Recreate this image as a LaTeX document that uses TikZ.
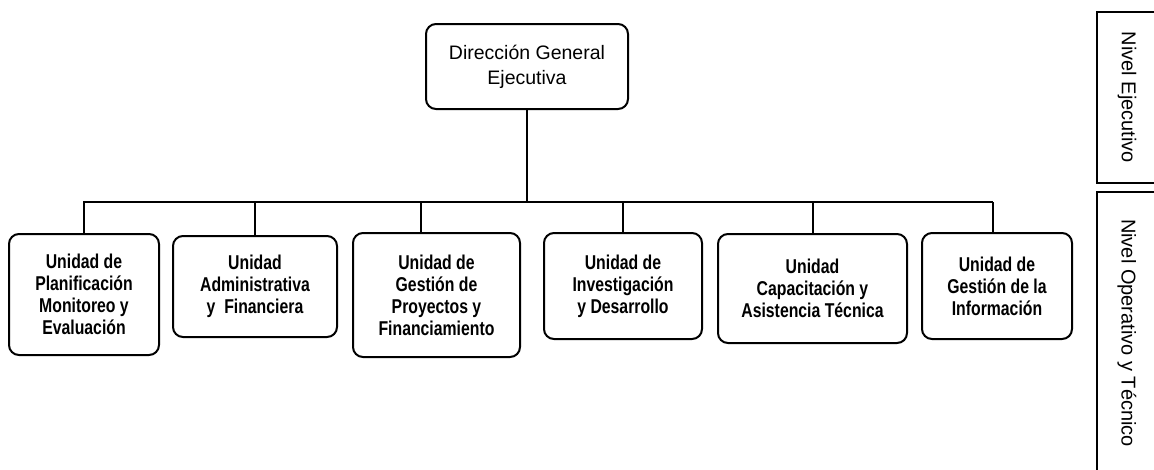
\documentclass[tikz,border=0pt]{standalone}
\usepackage{fontspec}
\setmainfont{Liberation Sans}
\newfontfamily\unitfont[FakeStretch=0.79]{Liberation Sans}
\begin{document}
\begin{tikzpicture}[x=1pt,y=-1pt,line width=2pt,color=black,
	direccion/.style={draw,rounded corners=10pt,align=center,inner sep=0pt,
		font=\fontsize{19.5}{25}\selectfont},
	unidad/.style={draw,rounded corners=10pt,align=center,inner sep=0pt,
		font=\unitfont\bfseries\fontsize{20}{22}\selectfont},
	nivel/.style={draw,line width=1.5pt,rotate=-90,inner sep=0pt,
		font=\fontsize{20}{24}\selectfont}]
		\useasboundingbox (0,0) rectangle (1154,469);
		\node[direccion,minimum width=202pt,minimum height=85pt] (dir) at (527,66.5) {Direcci\'on General\\Ejecutiva};
		\node[unidad,minimum width=150pt,minimum height=121pt] (u1) at (84,294.5) {Unidad de\\Planificaci\'on\\Monitoreo y\\Evaluaci\'on};
		\node[unidad,minimum width=164pt,minimum height=101pt] (u2) at (255,286.5) {Unidad\\Administrativa\\y\ \ Financiera};
		\node[unidad,minimum width=167pt,minimum height=124pt] (u3) at (436.5,295) {Unidad de\\Gesti\'on de\\Proyectos y\\Financiamiento};
		\node[unidad,minimum width=158pt,minimum height=106pt] (u4) at (623,286) {Unidad de\\Investigaci\'on\\y Desarrollo};
		\node[unidad,minimum width=189pt,minimum height=109pt] (u5) at (812.5,288.5) {Unidad\\Capacitaci\'on y\\Asistencia T\'ecnica};
		\node[unidad,minimum width=150pt,minimum height=106pt] (u6) at (997,286) {Unidad de\\Gesti\'on de la\\Informaci\'on};
		\node[nivel,minimum width=171pt,minimum height=60pt] (n1) at (1127,97.5) {Nivel Ejecutivo};
		\node[nivel,minimum width=282pt,minimum height=60pt] (n2) at (1127,333) {Nivel Operativo y T\'ecnico};
		% bus
		\coordinate (bl) at (83,202);
		\coordinate (br) at (993,202);
		\draw (dir.south) -- (dir.south |- bl);
		\draw (bl) -- (br);
		\foreach \u in {u1,u2,u4,u5}
		\draw (\u.north) -- (\u.north |- bl);
		\draw ([xshift=-16pt]u3.north) -- ([xshift=-16pt]u3.north |- bl);
		\draw (br) -- (br |- u6.north);
\end{tikzpicture}
\end{document}
